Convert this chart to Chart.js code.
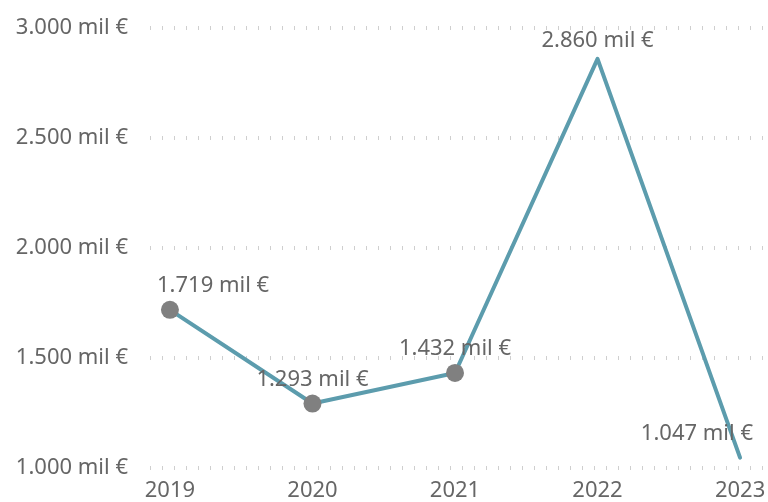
<!DOCTYPE html>
<html>
<head>
<meta charset="utf-8">
<script src="https://cdn.jsdelivr.net/npm/chart.js@4"></script>
<style>
body{margin:0;background:#fff;}
#wrap{width:768px;height:502px;}
</style>
</head>
<body>
<div id="wrap"><canvas id="lineChart" width="768" height="502"></canvas></div>
<script>
// data
const years = [2019, 2020, 2021, 2022, 2023];
const values = [1719, 1293, 1432, 2860, 1047];
const markerRadius = [9, 9, 9, 0, 0];
const yTicks = [1000, 1500, 2000, 2500, 3000];

function fmtMil(v){
  return Math.round(v).toString().replace(/\B(?=(\d{3})+(?!\d))/g, ".") + " mil €";
}

const textColor = "#666666";
const fontFamily = "'Noto Sans', 'Open Sans', sans-serif";
const fontSize = 22;

// labels above each point, kept inside the canvas
const valueLabels = {
  id: "valueLabels",
  afterDatasetsDraw(chart){
    const c = chart.ctx;
    const meta = chart.getDatasetMeta(0);
    const area = chart.chartArea;
    c.save();
    c.font = fontSize + "px " + fontFamily;
    c.fillStyle = textColor;
    c.textBaseline = "middle";
    c.textAlign = "left";
    meta.data.forEach((pt, i) => {
      const txt = fmtMil(values[i]);
      const w = c.measureText(txt).width;
      let left = pt.x - w / 2;
      if(left < area.left + 7) left = area.left + 7;
      if(left + w > chart.width - 15) left = chart.width - 15 - w;
      let y = pt.y - 24;
      if(y < area.top + 13) y = area.top + 13;
      c.fillText(txt, left, y);
    });
    c.restore();
  }
};

const ctx = document.getElementById("lineChart").getContext("2d");

new Chart(ctx, {
  type: "line",
  data: {
    datasets: [{
      data: years.map((y, i) => ({x: y, y: values[i]})),
      borderColor: "#5c9cad",
      borderWidth: 4,
      borderJoinStyle: "round",
      borderCapStyle: "round",
      pointRadius: markerRadius,
      pointHoverRadius: markerRadius,
      pointBackgroundColor: "#808080",
      pointBorderColor: "#808080",
      pointBorderWidth: 0,
      tension: 0,
      clip: false
    }]
  },
  options: {
    responsive: false,
    animation: false,
    layout: {autoPadding: false, padding: {top: 28, right: 0, left: 0, bottom: 0}},
    plugins: {legend: {display: false}, tooltip: {enabled: false}},
    scales: {
      x: {
        type: "linear",
        min: 2018.86,
        max: 2023.196,
        afterBuildTicks(scale){ scale.ticks = years.map(v => ({value: v})); },
        afterFit(scale){ scale.paddingLeft = 0; scale.paddingRight = 0; scale.height = 34; },
        grid: {display: false, drawTicks: false},
        border: {display: false},
        ticks: {
          color: textColor,
          font: {family: fontFamily, size: fontSize},
          padding: 10,
          maxRotation: 0,
          callback: v => String(v)
        }
      },
      y: {
        min: 1000,
        max: 3000,
        afterBuildTicks(scale){ scale.ticks = yTicks.map(v => ({value: v})); },
        afterFit(scale){ scale.width = 150; scale.paddingTop = 0; scale.paddingBottom = 0; },
        grid: {
          color: "#cfcfcf",
          lineWidth: 4,
          drawTicks: false
        },
        border: {display: false, dash: [1, 11]},
        ticks: {
          color: textColor,
          font: {family: fontFamily, size: fontSize},
          padding: 22,
          callback: v => fmtMil(v)
        }
      }
    }
  },
  plugins: [valueLabels]
});
</script>
</body>
</html>
